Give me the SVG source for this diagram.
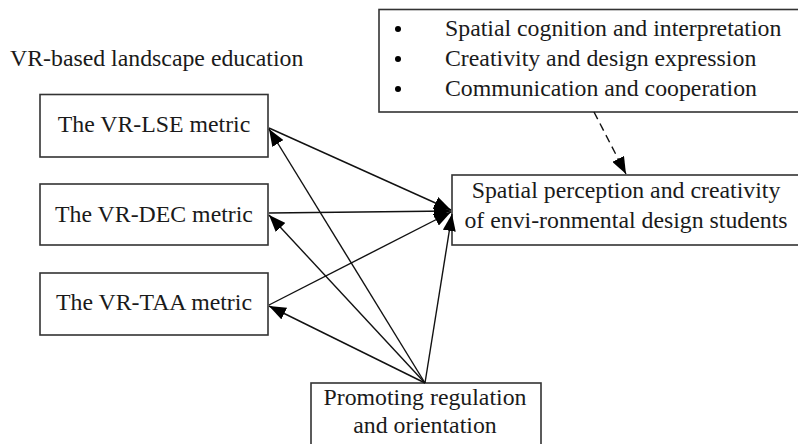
<svg xmlns="http://www.w3.org/2000/svg" width="798" height="444" viewBox="0 0 798 444">
<style>
.box{fill:#fff;stroke:#333;stroke-width:1.6}
.t{font-family:"Liberation Serif","Times New Roman",serif;font-size:23.8px;fill:#1a1a1a}
.m{text-anchor:middle}
.c{stroke:#111;stroke-width:1.4;fill:none}
.d{stroke:#111;stroke-width:1.4;fill:none;stroke-dasharray:8 5}
</style>
<defs>
<marker id="ah" markerUnits="userSpaceOnUse" markerWidth="18" markerHeight="13" refX="17" refY="6.5" orient="auto">
<path d="M0,0 L17,6.5 L0,13 z" fill="#000"/>
</marker>
</defs>
<text class="t" x="10" y="66">VR-based landscape education</text>
<g id="node-factors">
<rect class="box" x="379" y="9.5" width="425" height="102.5"/>
<circle cx="398" cy="29" r="3" fill="#000"/>
<circle cx="398" cy="59" r="3" fill="#000"/>
<circle cx="398" cy="89" r="3" fill="#000"/>
<text class="t" x="445" y="36">Spatial cognition and interpretation</text>
<text class="t" x="445" y="66">Creativity and design expression</text>
<text class="t" x="445" y="96">Communication and cooperation</text>
</g>
<g id="node-lse">
<rect class="box" x="40" y="94.5" width="228" height="62.5"/>
<text class="t m" x="154" y="132">The VR-LSE metric</text>
</g>
<g id="node-dec">
<rect class="box" x="40" y="184" width="228" height="61"/>
<text class="t m" x="154" y="222">The VR-DEC metric</text>
</g>
<g id="node-taa">
<rect class="box" x="40" y="273" width="228" height="62"/>
<text class="t m" x="154" y="310">The VR-TAA metric</text>
</g>
<g id="node-outcome">
<rect class="box" x="452" y="175" width="352" height="70"/>
<text class="t m" x="626" y="198">Spatial perception and creativity</text>
<text class="t m" x="626" y="228">of envi-ronmental design students</text>
</g>
<g id="node-promoting">
<rect class="box" x="311" y="383" width="230" height="70"/>
<text class="t m" x="425" y="405">Promoting regulation</text>
<text class="t m" x="425" y="433">and orientation</text>
</g>
<g id="connectors">
<line class="d" x1="594" y1="112" x2="626" y2="174" marker-end="url(#ah)"/>
<line class="c" x1="269" y1="128" x2="451" y2="210" marker-end="url(#ah)"/>
<line class="c" x1="269" y1="213" x2="451" y2="211" marker-end="url(#ah)"/>
<line class="c" x1="269" y1="305" x2="451" y2="212" marker-end="url(#ah)"/>
<line class="c" x1="425" y1="383" x2="269" y2="129" marker-end="url(#ah)"/>
<line class="c" x1="425" y1="383" x2="269" y2="215" marker-end="url(#ah)"/>
<line class="c" x1="425" y1="383" x2="269" y2="306" marker-end="url(#ah)"/>
<line class="c" x1="425" y1="383" x2="452" y2="214" marker-end="url(#ah)"/>
</g>
</svg>
